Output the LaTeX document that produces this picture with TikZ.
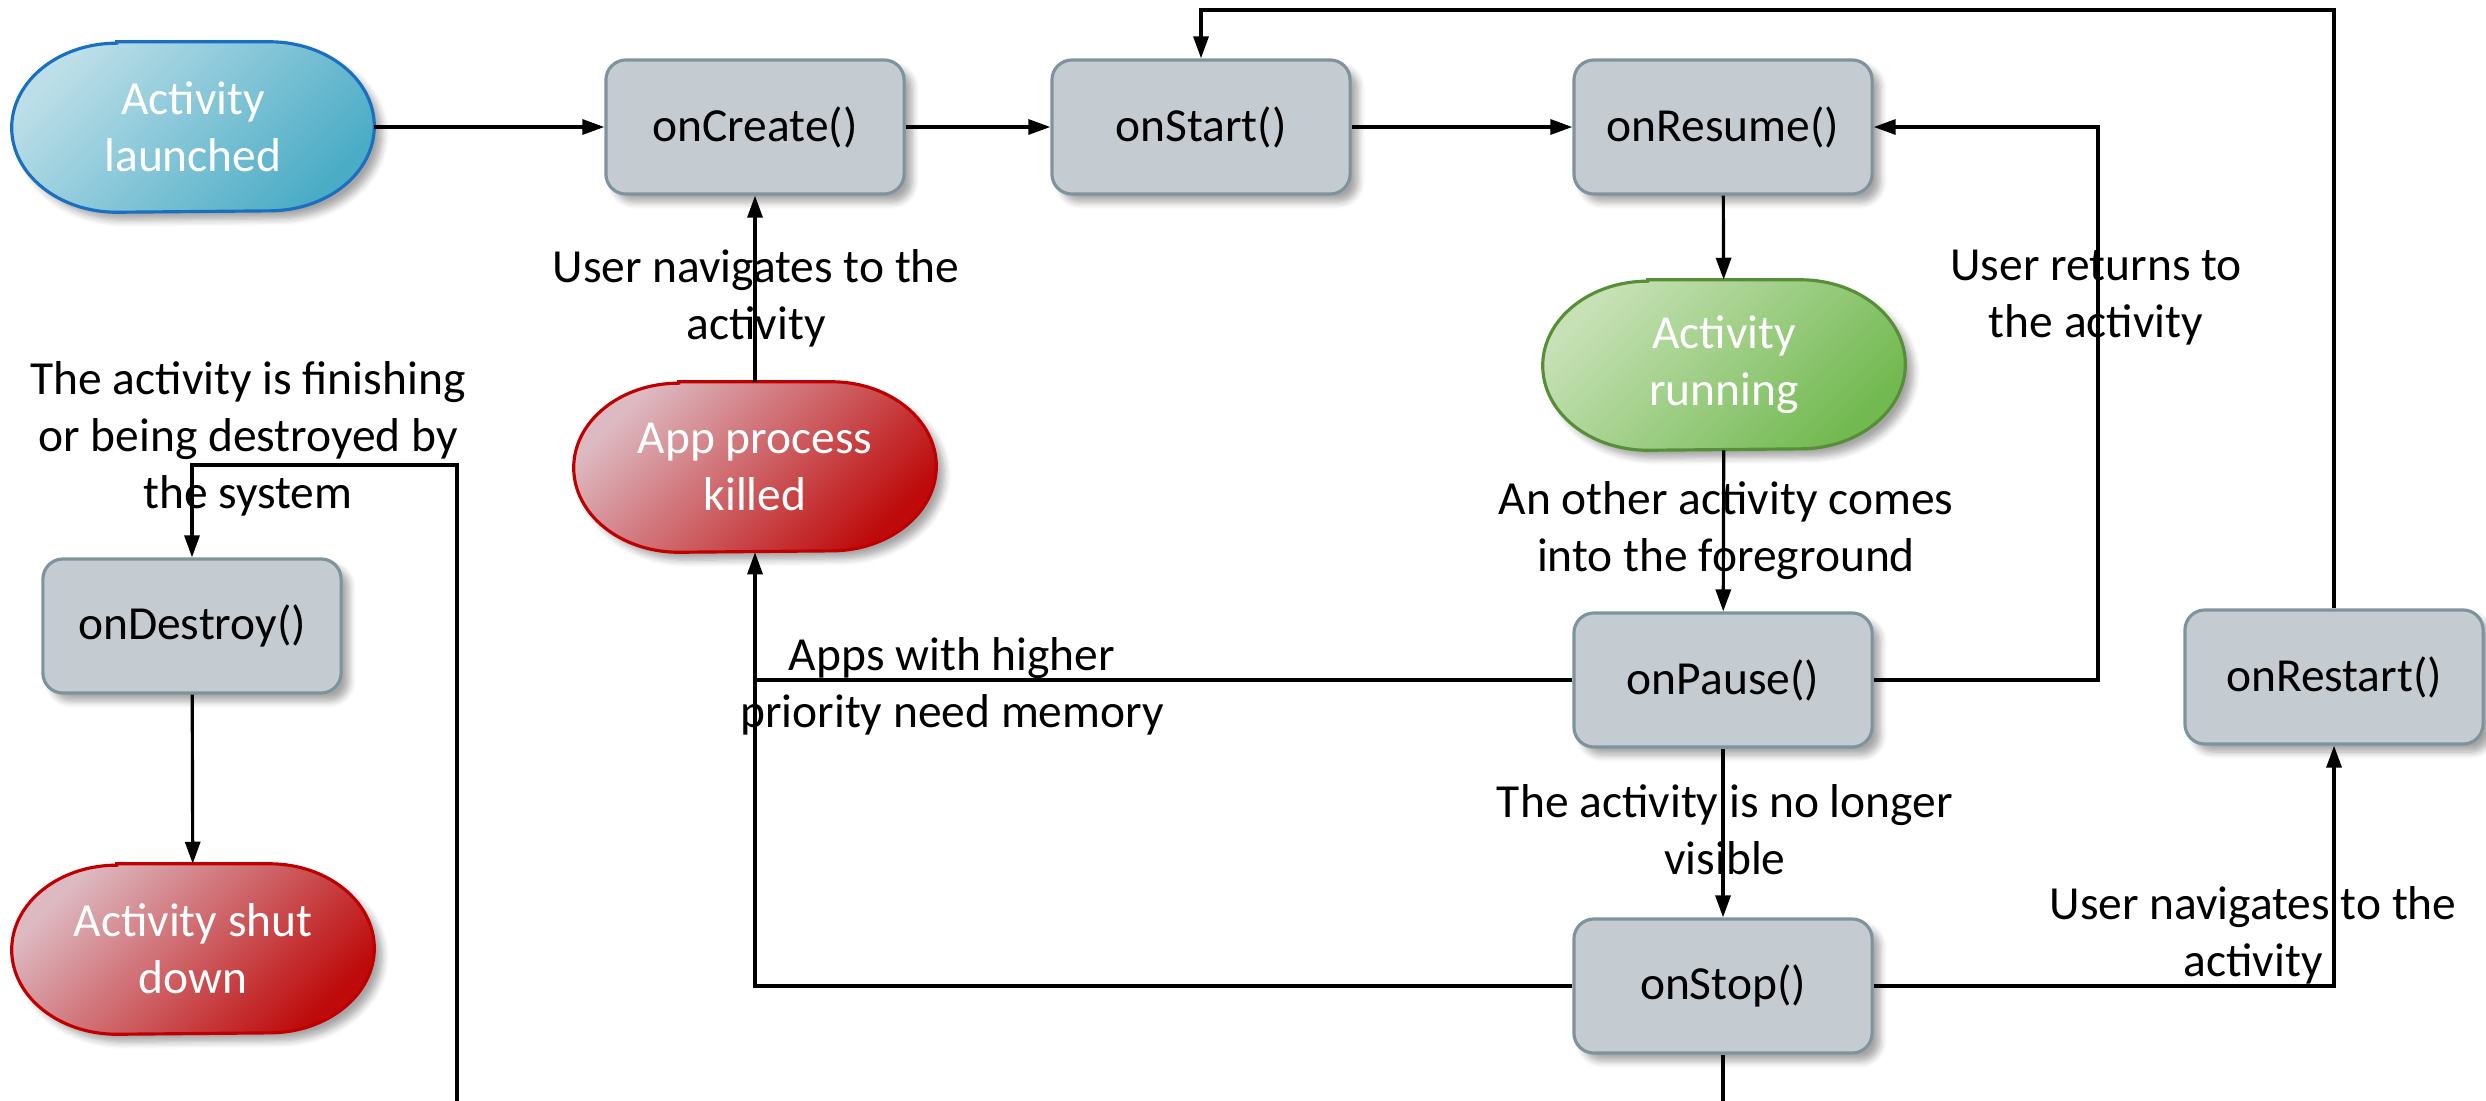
\documentclass[tikz,border=0pt]{standalone}
\usepackage{fontspec}
\setmainfont{Carlito}
\usetikzlibrary{arrows.meta,shadows,shadows.blur}
\definecolor{procfill}{HTML}{C4CCD1}
\definecolor{procdraw}{HTML}{7F939D}
\definecolor{blueL}{HTML}{BBDEE8}
\definecolor{blueD}{HTML}{4BACC6}
\definecolor{blueB}{HTML}{1A6FC0}
\definecolor{greenL}{HTML}{C6E1B5}
\definecolor{greenD}{HTML}{72B950}
\definecolor{greenB}{HTML}{568F38}
\definecolor{redL}{HTML}{DDBAC2}
\definecolor{redD}{HTML}{BE0A0A}
\definecolor{redB}{HTML}{C00000}
\tikzset{
  x=0.01cm, y=-0.01cm,
  txt/.style={font=\fontsize{13.5pt}{16.2pt}\selectfont, align=center},
  shd/.style={blur shadow={shadow xshift=0.08cm, shadow yshift=-0.08cm, shadow opacity=35, shadow blur steps=6}},
  proc/.style={txt, shd, rectangle, rounded corners=0.2cm, fill=procfill, draw=procdraw,
    line width=0.9pt, minimum width=2.98cm, minimum height=1.34cm},
  term/.style={txt, rectangle, text=white, minimum width=3.61cm, minimum height=1.69cm},
  termpath/.style={shd, line width=0.9pt},
  blueterm/.style={termpath, draw=blueB, top color=blueL, bottom color=blueD, shading angle=45},
  greenterm/.style={termpath, draw=greenB, top color=greenL, bottom color=greenD, shading angle=45},
  redterm/.style={termpath, draw=redB, top color=redL, bottom color=redD, shading angle=45},
  lbl/.style={txt, inner sep=0pt},
  conn/.style={draw=black, line width=0.9pt, -{Triangle[length=0.22cm,width=0.15cm]}},
  plain/.style={draw=black, line width=0.9pt},
}
\newcommand\termshape[2]{%
  \path[#2] ([xshift=1.05cm]#1.north west) -- ([xshift=-1.05cm]#1.north east)
    arc[x radius=1.05cm, y radius=0.845cm, start angle=90, end angle=-90]
    -- ([xshift=1.05cm]#1.south west)
    arc[x radius=1.05cm, y radius=0.845cm, start angle=270, end angle=90] -- cycle;}
\begin{document}
\begin{tikzpicture}
\useasboundingbox (0,0) rectangle (2486,1100);

% terminator outlines (geometry from invisible named nodes)
\path (193,127) node[term] (launched) {}
      (1724,365) node[term] (running) {}
      (755,467) node[term] (killed) {}
      (193,949) node[term] (shutdown) {};
\termshape{launched}{blueterm}
\termshape{running}{greenterm}
\termshape{killed}{redterm}
\termshape{shutdown}{redterm}
\node[term] at (launched) {Activity\\launched};
\node[term] at (running) {Activity\\running};
\node[term] at (killed) {App process\\killed};
\node[term] at (shutdown) {Activity shut\\down};

% process nodes
\node[proc] (onCreate) at (755,127) {onCreate()};
\node[proc] (onStart) at (1201,127) {onStart()};
\node[proc] (onResume) at (1723,127) {onResume()};
\node[proc] (onPause) at (1723,680) {onPause()};
\node[proc] (onStop) at (1723,986) {onStop()};
\node[proc] (onRestart) at (2334,677) {onRestart()};
\node[proc] (onDestroy) at (192,626) {onDestroy()};

% helper coordinates
\coordinate (retx) at (2098,0);
\coordinate (topy) at (0,10);
\coordinate (bot) at (0,1160);
\coordinate (dx) at (457,465);

% connectors
\draw[conn] (launched) -- (onCreate);
\draw[conn] (onCreate) -- (onStart);
\draw[conn] (onStart) -- (onResume);
\draw[conn] (onResume) -- (running);
\draw[conn] (running) -- (onPause);
\draw[conn] (onPause) -- (onStop);
\draw[conn] (onPause.east) -- (onPause.east -| retx) -- (onResume.east -| retx) -- (onResume.east);
\draw[conn] (onStop.east) -| (onRestart.south);
\draw[conn] (onRestart.north) -- (onRestart.north |- topy) -- (onStart.north |- topy) -- (onStart.north);
\draw[conn] (onStop.west) -| (killed.south);
\draw[plain] (onPause.west) -- (onPause.west -| killed.south);
\draw[conn] (killed) -- (onCreate);
\begin{scope}
\clip (0,0) rectangle (2486,1100);
\draw[conn] (onStop.south) -- (onStop.south |- bot) -- (dx |- bot) -- (dx) -- (dx -| onDestroy.north) -- (onDestroy.north);
\end{scope}
\draw[conn] (onDestroy) -- (shutdown);

% labels
\node[lbl] (l1) at (756,298) {User navigates to the\\activity};
\node[lbl] (l2) at (2096,298) {User returns to\\the activity};
\node[lbl] (l3) at (1726,531) {An other activity comes\\into the foreground};
\node[lbl] (l4) at (1725,830) {The activity is no longer\\visible};
\node[lbl] (l5) at (2253,935) {User navigates to the\\activity};
\node[lbl] (l6) at (952,686) {Apps with higher\\priority need memory};
\node[lbl] (l7) at (248,439) {The activity is finishing\\or being destroyed by\\the system};
\end{tikzpicture}
\end{document}
